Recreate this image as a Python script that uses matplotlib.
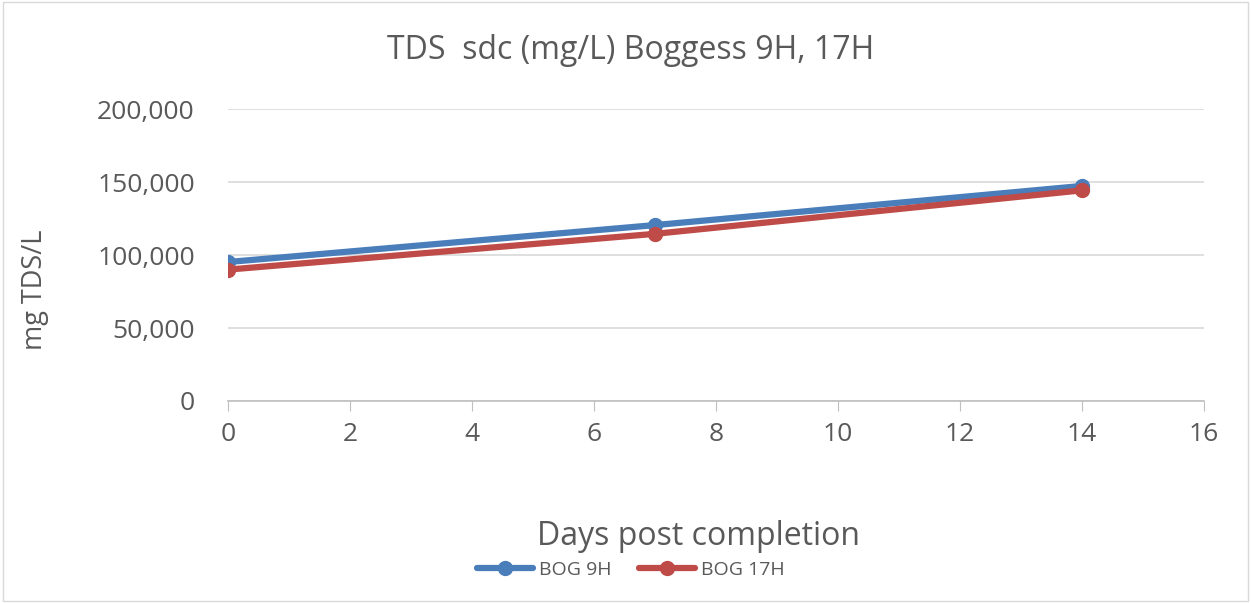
import matplotlib
matplotlib.use("Agg")
import matplotlib.pyplot as plt
from matplotlib.ticker import FuncFormatter, MultipleLocator
from matplotlib.patches import Rectangle

days = [0, 7, 14]
bog_9h = [95200, 120500, 147300]
bog_17h = [90000, 114500, 144300]
series_names = ["BOG 9H", "BOG 17H"]
colors = ["#4A7EBB", "#BE4B48"]

plt.rcParams['font.family'] = ['Open Sans', 'DejaVu Sans']

fig = plt.figure(figsize=(12.51, 6.03), dpi=100)
fig.patches.append(Rectangle((0.002, 0.003), 0.996, 0.994, transform=fig.transFigure,
                             fill=False, edgecolor="#D9D9D9", linewidth=1))
ax = fig.add_axes([0.1823, 0.335, 0.9624 - 0.1823, 0.8192 - 0.335])

for vals, name, c in zip([bog_9h, bog_17h], series_names, colors):
    ax.plot(days, vals, color=c, linewidth=4.5, marker='o', markersize=10,
            label=name, solid_capstyle='round')

ax.set_xlim(0, 16)
ax.set_ylim(0, 200000)
ax.xaxis.set_major_locator(MultipleLocator(2))
ax.yaxis.set_major_locator(MultipleLocator(50000))
ax.yaxis.set_major_formatter(FuncFormatter(lambda v, p: f"{int(v):,}"))
ax.grid(axis='y', color="#D9D9D9", linewidth=1.2)
ax.set_axisbelow(True)
for s in ['top', 'right', 'left']:
    ax.spines[s].set_visible(False)
ax.spines['bottom'].set_color("#BFBFBF")
ax.spines['bottom'].set_linewidth(1.2)
ax.tick_params(axis='y', length=0, labelsize=19, labelcolor="#595959", pad=24)
ax.tick_params(axis='x', length=7, color="#BFBFBF", labelsize=19, labelcolor="#595959", pad=8)

fig.text(0.504, 0.917, "TDS  sdc (mg/L) Boggess 9H, 17H", fontsize=23, color="#595959",
         ha='center', va='center')
ax.set_ylabel("mg TDS/L", fontsize=19.5, color="#595959", va='center', ha='center')
ax.yaxis.set_label_coords(-0.198, 0.38)
fig.text(0.558, 0.111, "Days post completion", fontsize=23, color="#595959",
         ha='center', va='center')

leg = fig.legend(loc='center', bbox_to_anchor=(0.504, 0.055), ncol=2, frameon=False,
                 fontsize=14, labelcolor="#595959", handlelength=2.9, columnspacing=1.4,
                 handletextpad=0.3)

fig.savefig("out.png", dpi=100)
